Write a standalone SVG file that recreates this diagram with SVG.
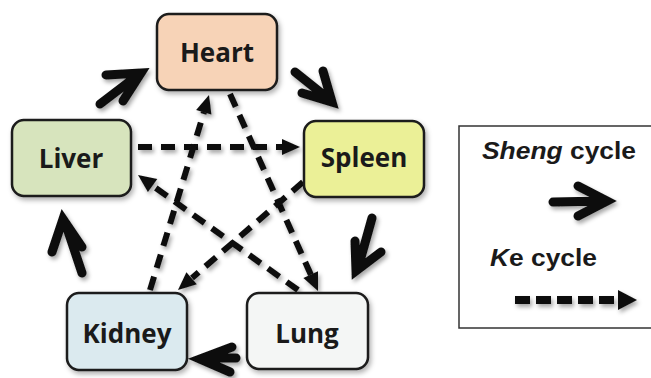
<svg xmlns="http://www.w3.org/2000/svg" width="651" height="378" viewBox="0 0 651 378">
<defs>
<filter id="sh" filterUnits="userSpaceOnUse" x="0" y="0" width="651" height="378">
<feDropShadow dx="2" dy="3" stdDeviation="2" flood-color="#000" flood-opacity="0.35"/>
</filter>
<filter id="bsh" x="-10%" y="-10%" width="125%" height="130%">
<feDropShadow dx="2" dy="3" stdDeviation="2.5" flood-color="#000" flood-opacity="0.3"/>
</filter>
</defs>
<style>
.box{stroke:#1a1a1a;stroke-width:2.5;filter:url(#bsh)}
.lbl{font-family:"Open Sans","Liberation Sans",sans-serif;font-weight:700;font-size:26px;fill:#1a1a1a;text-anchor:middle}
.sheng{fill:none;stroke:#111;stroke-width:9;stroke-linecap:round;stroke-linejoin:miter;filter:url(#sh)}
.ke{filter:url(#sh)}
.ke path{fill:none;stroke:#111;stroke-width:6;stroke-dasharray:14 9}
.ke polygon{fill:#111}
.leg{font-family:"Liberation Sans",Arial,sans-serif;font-weight:700;font-size:24px;fill:#1a1a1a}
</style>
<g id="connectors">
<g class="ke"><path d="M138,147 L283,147"/><polygon points="282,139 300,147 282,155"/></g>
<g class="ke"><path d="M230,94 L311,275"/><polygon points="303.4,277.9 318,291 318,271.3"/></g>
<g class="ke"><path d="M150,290 L204,112"/><polygon points="211.4,114.5 209,95 196.1,109.9"/></g>
<g class="ke"><path d="M303,182 L192,278"/><polygon points="186.4,272.2 178,290 196.8,284.3"/></g>
<g class="ke"><path d="M298,290 L153,186"/><polygon points="157.3,179 138,175 147.9,192"/></g>
<path class="sheng" d="M100,104 L138,75 M106,75 L141,73 L123,101"/>
<path class="sheng" d="M295,72 L330,100 M323,71 L332,102 L302,93"/>
<path class="sheng" d="M372,218 L358,268 M355,241 L356,271 L381,252"/>
<path class="sheng" d="M236,358 L203,358 M232,347 L200,359 L230,372"/>
<path class="sheng" d="M82,273 L65,222 M52,252 L63,219 L82,247"/>
</g>
<g id="heart">
<rect class="box" x="157" y="14" width="120" height="76" rx="12" fill="#f7d3b7"/>
<text class="lbl" x="217" y="62">Heart</text>
</g>
<g id="liver">
<rect class="box" x="12" y="120" width="119" height="76" rx="12" fill="#d7e4bd"/>
<text class="lbl" x="71" y="168">Liver</text>
</g>
<g id="spleen">
<rect class="box" x="304" y="121" width="120" height="76" rx="12" fill="#ebf097"/>
<text class="lbl" x="364" y="167">Spleen</text>
</g>
<g id="kidney">
<rect class="box" x="67" y="293" width="120" height="77" rx="12" fill="#dbeaef"/>
<text class="lbl" x="127" y="343">Kidney</text>
</g>
<g id="lung">
<rect class="box" x="247" y="293" width="121" height="76" rx="12" fill="#f4f6f5"/>
<text class="lbl" x="307" y="343">Lung</text>
</g>
<g id="legend">
<rect x="459" y="126" width="196" height="202" fill="#fff" stroke="#333" stroke-width="1.5"/>
<text class="leg" x="482" y="159" textLength="154" lengthAdjust="spacingAndGlyphs"><tspan font-style="italic">Sheng</tspan> cycle</text>
<path class="sheng" d="M553,202 L604,201 M578,186 L607,201 L578,216"/>
<text class="leg" x="490" y="266" textLength="107" lengthAdjust="spacingAndGlyphs"><tspan font-style="italic">K</tspan>e cycle</text>
<g class="ke"><path d="M515,300 L619,300" style="stroke-width:8;stroke-dasharray:15 6"/><polygon points="618,290 637,300 618,310"/></g>
</g>
</svg>
